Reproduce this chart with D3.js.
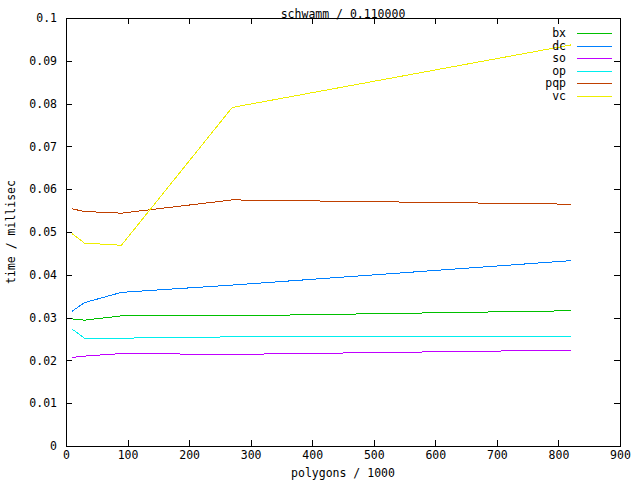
<!DOCTYPE html>
<html><head><meta charset="utf-8">
<script src="https://cdn.jsdelivr.net/npm/d3@7"></script>
<style>body{margin:0;background:#fff}svg{display:block}text{font-family:"DejaVu Sans Mono",monospace;font-size:11.5px;fill:#000}</style>
</head><body>
<script>
const xs = [10, 30, 90, 270, 820];
const bx  = [0.0297, 0.0294, 0.0304, 0.0304, 0.0316];
const dc  = [0.0315, 0.0335, 0.0359, 0.0376, 0.0433];
const so  = [0.0207, 0.0210, 0.0216, 0.0214, 0.0224];
const op  = [0.0273, 0.0252, 0.0252, 0.0255, 0.0256];
const pqp = [0.0554, 0.0548, 0.0544, 0.0575, 0.0565];
const vc  = [0.0496, 0.0474, 0.0469, 0.0791, 0.0937];
const seriesNames = ["bx", "dc", "so", "op", "pqp", "vc"];
const seriesValues = [bx, dc, so, op, pqp, vc];
const colors = ["#00c000", "#0080ff", "#c000ff", "#00eeee", "#c04000", "#eeee00"];
const xTicks = [0,100,200,300,400,500,600,700,800,900];
const yTicks = [0,0.01,0.02,0.03,0.04,0.05,0.06,0.07,0.08,0.09,0.1];

const W=640,H=480, L=66, R=620, T=18, B=446;
const svg = d3.select("body").append("svg").attr("width",W).attr("height",H)
  .attr("shape-rendering","crispEdges");
const x = d3.scaleLinear().domain([0,900]).range([L,R]);
const y = d3.scaleLinear().domain([0,0.1]).range([B,T]);

// ticks
const tk = 6;
const yAxisL = d3.axisLeft(y).tickValues(yTicks).tickSize(-tk).tickPadding(9)
  .tickFormat(d=> d===0?"0":(d===0.1?"0.1":d3.format(".2f")(d)));
svg.append("g").attr("transform",`translate(${L},0)`).call(yAxisL);
svg.append("g").attr("transform",`translate(${R},0)`).call(d3.axisRight(y).tickValues(yTicks.slice(1,-1)).tickSize(-tk).tickFormat(""));
svg.append("g").attr("transform",`translate(0,${B})`).call(d3.axisBottom(x).tickValues(xTicks).tickSize(-tk).tickPadding(5).tickFormat(d3.format("d")));
svg.append("g").attr("transform",`translate(0,${T})`).call(d3.axisTop(x).tickValues(xTicks.slice(1,-1)).tickSize(-tk).tickFormat(""));
svg.selectAll(".domain").remove();
svg.selectAll(".tick line").attr("stroke","#000");
svg.selectAll(".tick text").style("font-family",'"DejaVu Sans Mono",monospace').style("font-size","11.5px").attr("fill","#000");
svg.append("rect").attr("x",L+0.5).attr("y",T+0.5).attr("width",R-L).attr("height",B-T)
  .attr("fill","none").attr("stroke","#000");

// lines
const line = d3.line().x((d,i)=>x(xs[i])).y(d=>y(d));
seriesValues.forEach((vals,k)=>{
  svg.append("path").datum(vals).attr("d",line).attr("fill","none")
    .attr("stroke",colors[k]).attr("stroke-width",1);
});

// legend
seriesNames.forEach((n,k)=>{
  const yy = 33 + k*12.6;
  svg.append("text").attr("x",566).attr("y",yy+4).attr("text-anchor","end").text(n);
  svg.append("line").attr("x1",577).attr("x2",612).attr("y1",Math.round(yy)+0.5).attr("y2",Math.round(yy)+0.5)
    .attr("stroke",colors[k]).attr("stroke-width",1.5);
});

// titles
svg.append("text").attr("x",(L+R)/2).attr("y",18).attr("text-anchor","middle").text("schwamm / 0.110000");
svg.append("text").attr("x",(L+R)/2).attr("y",477).attr("text-anchor","middle").text("polygons / 1000");
svg.append("text").attr("transform",`translate(15,${(T+B)/2}) rotate(-90)`).attr("text-anchor","middle").text("time / millisec");
</script>
</body></html>
